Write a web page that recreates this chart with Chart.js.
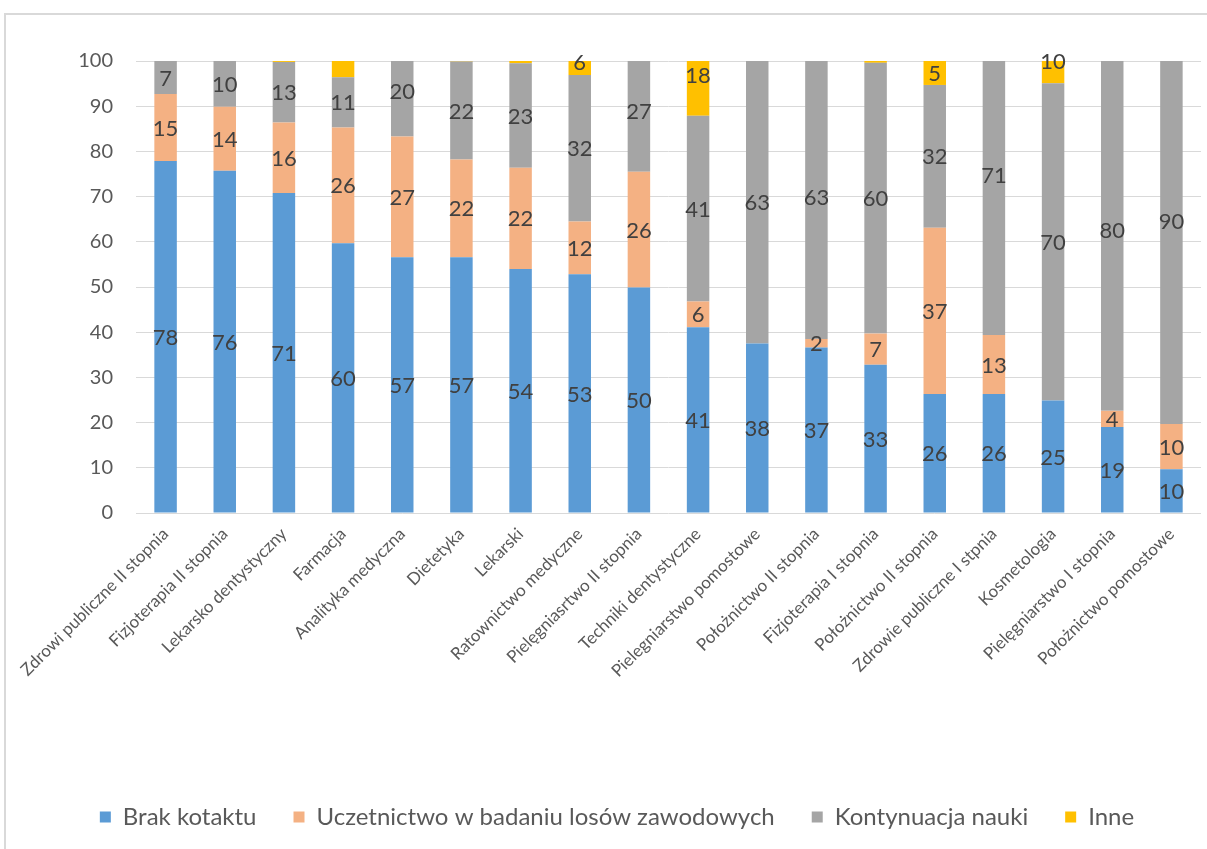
<!DOCTYPE html>
<html>
<head>
<meta charset="utf-8">
<script src="https://cdn.jsdelivr.net/npm/chart.js@4.4.0/dist/chart.umd.min.js"></script>
<style>
html,body{margin:0;padding:0;background:#fff;overflow:hidden;}
#wrap{position:relative;width:1207px;height:849px;}
#frame{position:absolute;left:4px;top:13px;width:1230px;height:870px;border:2px solid #d9d9d9;box-sizing:border-box;pointer-events:none;}
canvas{position:absolute;left:0;top:0;}
</style>
</head>
<body>
<div id="wrap"><canvas id="c" width="1207" height="849"></canvas><div id="frame"></div></div>
<script>
const categories = [
  "Zdrowi publiczne II stopnia",
  "Fizjoterapia II stopnia",
  "Lekarsko dentystyczny",
  "Farmacja",
  "Analityka medyczna",
  "Dietetyka",
  "Lekarski",
  "Ratownictwo medyczne",
  "Pielęgniasrtwo II stopnia",
  "Techniki dentystyczne",
  "Pielegniarstwo pomostowe",
  "Położnictwo II stopnia",
  "Fizjoterapia I stopnia",
  "Położnictwo II stopnia",
  "Zdrowie publiczne I stpnia",
  "Kosmetologia",
  "Pielęgniarstwo I stopnia",
  "Położnictwo pomostowe"
];
const seriesNames = ["Brak kotaktu", "Uczetnictwo w badaniu losów zawodowych", "Kontynuacja nauki", "Inne"];
const brakKontaktu = [77.9, 75.7, 70.8, 59.7, 56.6, 56.6, 54.0, 52.8, 49.9, 41.1, 37.5, 36.6, 32.8, 26.3, 26.3, 24.9, 19.0, 9.7];
const uczestnictwo = [14.8, 14.2, 15.6, 25.6, 26.7, 21.6, 22.4, 11.7, 25.6, 5.7, 0, 1.9, 6.9, 36.8, 13.1, 0, 3.6, 10.0];
const kontynuacja  = [7.3, 10.1, 13.4, 11.1, 20.2, 21.7, 23.1, 32.4, 27.0, 41.1, 62.6, 63.0, 59.9, 31.6, 71.0, 70.2, 80.0, 90.0];
const inne         = [0, 0, 0.4, 3.6, 0, 0.3, 0.5, 6.0, 0, 18.0, 0, 0, 0.4, 5.3, 0, 10.0, 0, 0];
const yTicks = [0, 10, 20, 30, 40, 50, 60, 70, 80, 90, 100];
const labelMin = [1, 1, 1, 4];

const colors = ["#5B9BD5", "#F4B183", "#A5A5A5", "#FFC000"];
const seriesData = [brakKontaktu, uczestnictwo, kontynuacja, inne];

const dataLabels = {
  id: 'dataLabels',
  afterDatasetsDraw(chart) {
    const ctx = chart.ctx;
    ctx.save();
    ctx.font = '22px Lato';
    ctx.fillStyle = '#404040';
    ctx.textAlign = 'center';
    ctx.textBaseline = 'middle';
    chart.data.datasets.forEach((ds, i) => {
      const meta = chart.getDatasetMeta(i);
      meta.data.forEach((el, j) => {
        const v = ds.data[j];
        if (v < labelMin[i]) return;
        const y = (el.y + el.base) / 2;
        ctx.fillText(String(Math.round(v)), el.x, y + 1);
      });
    });
    ctx.restore();
  }
};

Chart.defaults.font.family = 'Lato';
Chart.defaults.color = '#595959';

new Chart(document.getElementById('c'), {
  type: 'bar',
  data: {
    labels: categories,
    datasets: seriesData.map((d, i) => ({
      label: seriesNames[i],
      data: d,
      backgroundColor: colors[i],
      borderWidth: 0,
      categoryPercentage: 1,
      barPercentage: 0.38,
      clip: 0
    }))
  },
  options: {
    responsive: false,
    devicePixelRatio: 1,
    animation: false,
    layout: { padding: { top: 61, left: 33, right: 6, bottom: 10 } },
    plugins: {
      tooltip: { enabled: false },
      legend: {
        position: 'bottom',
        labels: {
          boxWidth: 11,
          boxHeight: 11,
          padding: 37,
          color: '#595959',
          font: { size: 24, family: 'Lato' }
        }
      }
    },
    scales: {
      x: {
        stacked: true,
        grid: { display: false },
        border: { display: false },
        ticks: {
          autoSkip: false,
          maxRotation: 45,
          minRotation: 45,
          padding: 3,
          color: '#595959',
          font: { size: 17, family: 'Lato' }
        },
        afterFit(scale) { scale.height = 255; }
      },
      y: {
        stacked: true,
        min: 0,
        max: 100,
        afterBuildTicks(scale) { scale.ticks = yTicks.map(v => ({ value: v })); },
        grid: { color: '#d9d9d9', lineWidth: 1, drawTicks: false },
        border: { display: false },
        ticks: {
          padding: 23,
          color: '#595959',
          font: { size: 20, family: 'Lato' }
        },
        afterFit(scale) { scale.width = 103; }
      }
    }
  },
  plugins: [dataLabels]
});
</script>
</body>
</html>
